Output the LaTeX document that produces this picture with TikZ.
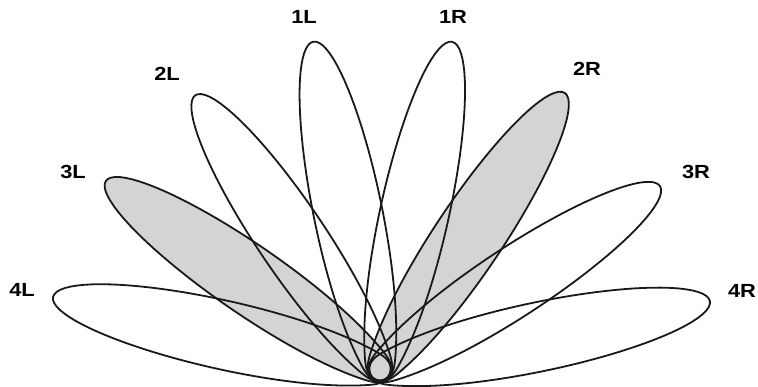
\documentclass[tikz,border=0pt]{standalone}
\usepackage{fontspec}
\setmainfont{Liberation Sans}
\definecolor{lobegray}{RGB}{211,212,214}
\tikzset{
  lobeline/.style={line width=1.8pt, line join=round, draw=black!90},
  lobefill/.style={fill=lobegray},
  lbl/.style={font=\bfseries\fontsize{19}{22}\selectfont, inner sep=0pt, xscale=1.15}
}
\begin{document}
\begin{tikzpicture}[x=1pt,y=1pt]
\useasboundingbox (0,0) rectangle (758,387);
\coordinate (C) at (380,17);
\begin{scope}[shift={(C)}]
  \foreach \a/\L in {145.4/333, 56.3/333}
    \fill[lobefill] plot[domain=-180:180,samples=721] ({\a+\x}:{9+(\L-9)/(1+(\x/11.5)^2)}) -- cycle;
  \foreach \a/\L in {11.8/337, 33.3/335, 56.3/333, 77.6/336, 101.5/335, 123.9/331, 145.4/333, 167.4/335}
    \draw[lobeline] plot[domain=-180:180,samples=721] ({\a+\x}:{9+(\L-9)/(1+(\x/11.5)^2)}) -- cycle;
\end{scope}
\node[lbl] (l1L) at (304,370) {1L};
\node[lbl] (l1R) at (453,370) {1R};
\node[lbl] (l2L) at (167,313) {2L};
\node[lbl] (l2R) at (587,318) {2R};
\node[lbl] (l3L) at (73,215) {3L};
\node[lbl] (l3R) at (696,215) {3R};
\node[lbl] (l4L) at (22,97) {4L};
\node[lbl] (l4R) at (742,96) {4R};
\end{tikzpicture}
\end{document}
